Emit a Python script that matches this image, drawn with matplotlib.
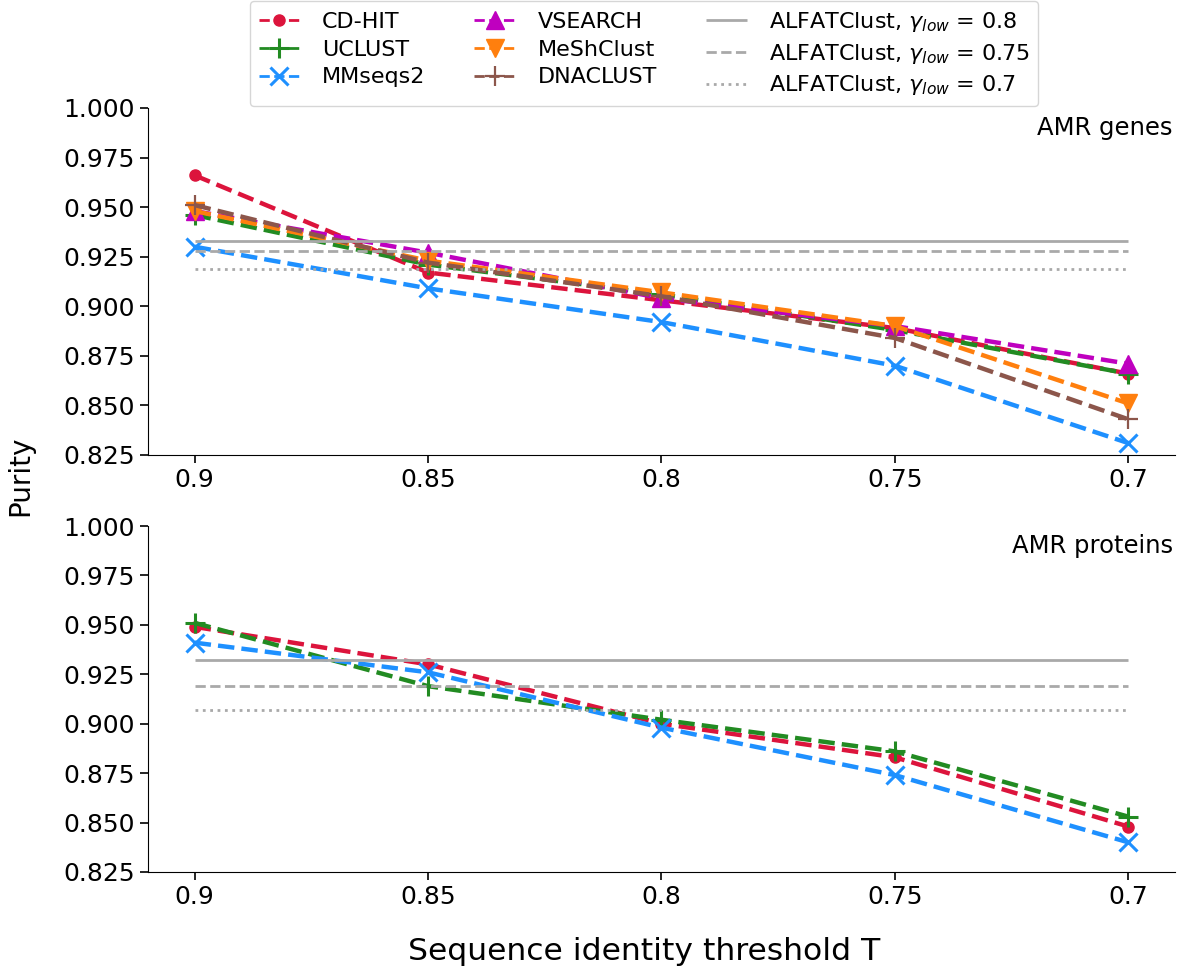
import matplotlib.pyplot as plt

thresholds = [0.9, 0.85, 0.8, 0.75, 0.7]
tick_labels = ['0.9', '0.85', '0.8', '0.75', '0.7']

# AMR genes
genes_cdhit = [0.966, 0.917, 0.903, 0.889, 0.866]
genes_uclust = [0.946, 0.921, 0.906, 0.888, 0.866]
genes_mmseqs = [0.930, 0.909, 0.892, 0.870, 0.831]
genes_vsearch = [0.948, 0.927, 0.904, 0.890, 0.871]
genes_meshclust = [0.948, 0.923, 0.907, 0.890, 0.851]
genes_dnaclust = [0.951, 0.922, 0.905, 0.884, 0.843]
genes_alfat = [0.933, 0.928, 0.919]

# AMR proteins
prot_cdhit = [0.949, 0.930, 0.900, 0.883, 0.848]
prot_uclust = [0.951, 0.919, 0.902, 0.886, 0.853]
prot_mmseqs = [0.941, 0.926, 0.898, 0.874, 0.840]
prot_alfat = [0.932, 0.919, 0.907]

gammas = ['0.8', '0.75', '0.7']
alfat_styles = ['-', '--', ':']

methods = {
    'CD-HIT': dict(color='crimson', marker='o', ms=8),
    'UCLUST': dict(color='forestgreen', marker='+', ms=14, mew=2.2),
    'MMseqs2': dict(color='dodgerblue', marker='x', ms=13, mew=2.2),
    'VSEARCH': dict(color='m', marker='^', ms=13),
    'MeShClust': dict(color='tab:orange', marker='v', ms=13),
    'DNACLUST': dict(color='tab:brown', marker='+', ms=14, mew=1.6),
}

plt.rcParams['font.family'] = 'DejaVu Sans'
fig = plt.figure(figsize=(11.8, 9.68), dpi=100)
ax1 = fig.add_axes([0.1254, 0.530, 0.8703, 0.3585])
ax2 = fig.add_axes([0.1254, 0.0992, 0.8703, 0.3574])

def draw(ax, series, alfat, title):
    for name, vals in series:
        st = methods[name]
        ax.plot(thresholds, vals, linestyle='--', linewidth=3.2, label=name, **st)
    for v, ls, g in zip(alfat, alfat_styles, gammas):
        ax.hlines(v, thresholds[0], thresholds[-1], colors='darkgray', linestyles=ls,
                  linewidth=2, label=r'ALFATClust, $\gamma_{low}$ = ' + g)
    ax.set_xlim(0.91, 0.69)
    ax.set_ylim(0.825, 1.0)
    ax.set_xticks(thresholds)
    ax.set_xticklabels(tick_labels)
    ax.set_yticks([0.825 + 0.025 * i for i in range(8)])
    ax.yaxis.set_major_formatter(plt.FormatStrFormatter('%.3f'))
    ax.tick_params(labelsize=18, length=6, width=1.2)
    ax.spines['top'].set_visible(False)
    ax.spines['right'].set_visible(False)
    ax.text(0.998, 0.977, title, transform=ax.transAxes, ha='right', va='top', fontsize=17.5)

draw(ax1, [('CD-HIT', genes_cdhit), ('UCLUST', genes_uclust), ('MMseqs2', genes_mmseqs),
           ('VSEARCH', genes_vsearch), ('MeShClust', genes_meshclust), ('DNACLUST', genes_dnaclust)],
     genes_alfat, 'AMR genes')
draw(ax2, [('CD-HIT', prot_cdhit), ('UCLUST', prot_uclust), ('MMseqs2', prot_mmseqs)],
     prot_alfat, 'AMR proteins')

handles, labels = ax1.get_legend_handles_labels()
leg = fig.legend(handles, labels, loc='upper center', bbox_to_anchor=(0.5458, 0.999), ncol=3,
                 fontsize=16, handlelength=1.85, columnspacing=2.2, labelspacing=0.35,
                 borderpad=0.4, handletextpad=1.0, borderaxespad=0)
# thinner lines in the legend than in the plot
for h in leg.legend_handles:
    h.set_linewidth(2)

fig.text(0.017, 0.508, 'Purity', rotation=90, va='center', ha='center', fontsize=20)
fig.text(0.546, 0.017, 'Sequence identity threshold T', ha='center', va='center', fontsize=22.6)

plt.savefig('out.png', dpi=100)
